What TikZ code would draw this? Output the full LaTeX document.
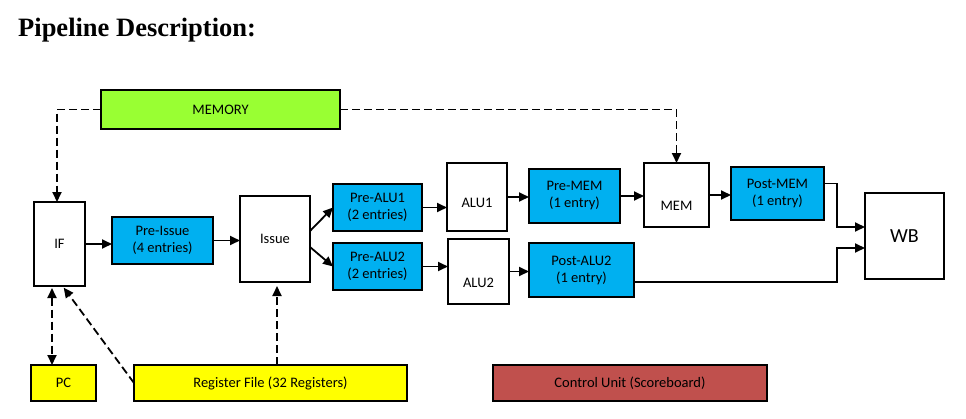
\documentclass[tikz,border=0pt]{standalone}
\usepackage{fontspec}
\setmainfont{Carlito}
\newfontfamily\titlefont{Liberation Serif}
\usepackage{tikz}
\usetikzlibrary{arrows.meta}
\tikzset{>={Triangle[length=10pt,width=9pt]}}
\usepackage{xcolor}
\definecolor{latchblue}{HTML}{00B0F0}
\definecolor{memgreen}{HTML}{99FF33}
\definecolor{regyellow}{HTML}{FFFF00}
\definecolor{ctrlred}{HTML}{C0504D}
\newcommand\boxfont{\fontsize{14.5}{17}\selectfont}
\tikzstyle{unit}=[draw=black,line width=1.8pt,fill=white,inner sep=0,outer sep=0,align=center,font=\boxfont]
\tikzstyle{latch}=[unit,fill=latchblue]
\tikzstyle{flow}=[->,line width=1.8pt]
\tikzstyle{dashflow}=[flow,dash pattern=on 8pt off 4pt]

\begin{document}
\begin{tikzpicture}[x=1pt,y=-1pt]
    \useasboundingbox (0,0) rectangle (966,418);

    \node[anchor=base west,inner sep=0,font=\titlefont\bfseries\fontsize{26.5}{30}\selectfont] (title) at (18,36) {Pipeline Description:};

    \node[unit,fill=memgreen,minimum width=239,minimum height=39] (memory) at (220.5,109.5) {MEMORY};

    \node[unit,minimum width=51,minimum height=84] (if) at (59.5,244) {IF};
    \node[latch,minimum width=101,minimum height=47] (preissue) at (162.5,240.5) {Pre-Issue\\(4 entries)};
    \node[unit,minimum width=70,minimum height=86] (issue) at (275,239) {Issue};

    \node[latch,minimum width=89,minimum height=47] (prealuA) at (377.5,207.5) {Pre-ALU1\\(2 entries)};
    \node[latch,minimum width=89,minimum height=47] (prealuB) at (377.5,266.5) {Pre-ALU2\\(2 entries)};
    \node[unit,minimum width=60,minimum height=68,label={[font=\boxfont,yshift=-6pt]center:ALU1}] (aluA) at (477,197) {};
    \node[unit,minimum width=61,minimum height=65,label={[font=\boxfont,yshift=-11.5pt]center:ALU2}] (aluB) at (478.5,271.5) {};
    \node[latch,line width=2.6pt,minimum width=91,minimum height=54] (premem) at (574.5,196) {Pre-MEM\\(1 entry)};
    \node[latch,line width=2.6pt,minimum width=105,minimum height=54] (postaluB) at (581.5,270) {Post-ALU2\\(1 entry)};
    \node[unit,minimum width=65,minimum height=64,label={[font=\boxfont,yshift=-11pt]center:MEM}] (memstage) at (676.5,195) {};
    \node[latch,minimum width=93,minimum height=53] (postmem) at (777.5,193.5) {Post-MEM\\(1 entry)};
    \node[unit,minimum width=79,minimum height=86,font=\fontsize{20}{24}\selectfont] (wb) at (904.5,236) {WB};
    \coordinate (wbjoin) at (837,236);

    \node[unit,fill=regyellow,minimum width=65,minimum height=36] (pc) at (63.5,383) {PC};
    \node[unit,fill=regyellow,minimum width=273,minimum height=36] (regfile) at (270.5,383) {Register File (32 Registers)};
    \node[unit,fill=ctrlred,minimum width=274,minimum height=36] (control) at (630,383) {Control Unit (Scoreboard)};

    \draw[dashflow] (memory.west) -| ([xshift=-2.5pt]if.north);
    \draw[dashflow] (memory.east) -| (memstage.north);

    \draw[flow] (if.east) -- (if.east -| preissue.west);
    \draw[flow] (preissue.east) -- (preissue.east -| issue.west);
    \draw[flow] ([yshift=8pt]issue.east) -- (prealuA.west);
    \draw[flow] ([yshift=-8pt]issue.east) -- (prealuB.west);
    \draw[flow] (prealuA.east) -- (prealuA.east -| aluA.west);
    \draw[flow] (prealuB.east) -- (prealuB.east -| aluB.west);
    \draw[flow] (aluA.east) -- (aluA.east -| premem.west);
    \draw[flow] (aluB.east) -- (aluB.east -| postaluB.west);
    \draw[flow] (premem.east) -- (premem.east -| memstage.west);
    \draw[flow] (memstage.east) -- (memstage.east -| postmem.west);
    \draw[flow] ([yshift=10pt]postmem.east) -| ([yshift=9pt]wbjoin) -- ([yshift=9pt]wb.west);
    \draw[flow] ([yshift=-12pt]postaluB.east) -| ([yshift=-12pt]wbjoin) -- ([yshift=-12pt]wb.west);

    \draw[dashflow,<->,shorten <=2pt] ([xshift=-7.5pt]if.south) -- ([xshift=-7.5pt]if.south |- pc.north);
    \draw[dashflow,shorten >=2pt] (regfile.west) -- ([xshift=3pt]if.south);
    \draw[dashflow,shorten >=4pt] ([xshift=2pt]issue.south |- regfile.north) -- ([xshift=2pt]issue.south);

\end{tikzpicture}
\end{document}
